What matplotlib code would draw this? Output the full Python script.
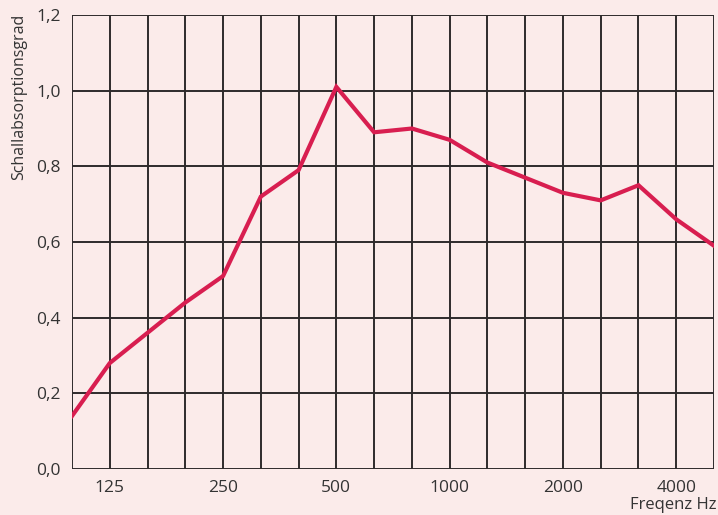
import matplotlib
matplotlib.use("Agg")
import matplotlib.pyplot as plt
import numpy as np

freqs = [100, 125, 160, 200, 250, 315, 400, 500, 630, 800, 1000, 1250, 1600, 2000, 2500, 3150, 4000, 5000]
absorption = [0.14, 0.28, 0.36, 0.44, 0.51, 0.72, 0.79, 1.01, 0.89, 0.90, 0.87, 0.81, 0.77, 0.73, 0.71, 0.75, 0.66, 0.59]
labeled_freqs = [125, 250, 500, 1000, 2000, 4000]
y_ticks = [0.0, 0.2, 0.4, 0.6, 0.8, 1.0, 1.2]
y_labels = ["0,0", "0,2", "0,4", "0,6", "0,8", "1,0", "1,2"]

plt.rcParams['font.family'] = ['Open Sans', 'DejaVu Sans']
bg = '#fbebea'
grid_c = '#2e2a2b'
line_c = '#d81e50'
text_c = '#333333'

fig = plt.figure(figsize=(7.18, 5.15), dpi=100, facecolor=bg)
ax = fig.add_axes([72/718, 46/515, 642/718, 454/515], facecolor=bg)

x = np.arange(len(freqs))
ax.plot(x, absorption, color=line_c, lw=3, zorder=3, solid_joinstyle='miter')

ax.set_xlim(0, len(freqs) - 1)
ax.set_ylim(0, 1.2)
for xi in x:
    ax.axvline(xi, color=grid_c, lw=1.4, zorder=2)
for yv in y_ticks:
    ax.axhline(yv, color=grid_c, lw=1.4, zorder=2)

ax.set_xticks([freqs.index(f) for f in labeled_freqs])
ax.set_xticklabels([str(f) for f in labeled_freqs], fontsize=12.5, color=text_c)
ax.set_yticks(y_ticks)
ax.set_yticklabels(y_labels, fontsize=12.5, color=text_c)
ax.tick_params(length=0, pad=8)
for s in ax.spines.values():
    s.set_visible(False)

fig.text(19/718, 1 - 14/515, "Schallabsorptionsgrad", rotation=90, ha='center', va='top',
         fontsize=11.5, color=text_c)
fig.text(716/718, 1 - 505/515, "Freqenz Hz", ha='right', va='center', fontsize=12, color=text_c)

fig.savefig("out.png", dpi=100, facecolor=bg)
